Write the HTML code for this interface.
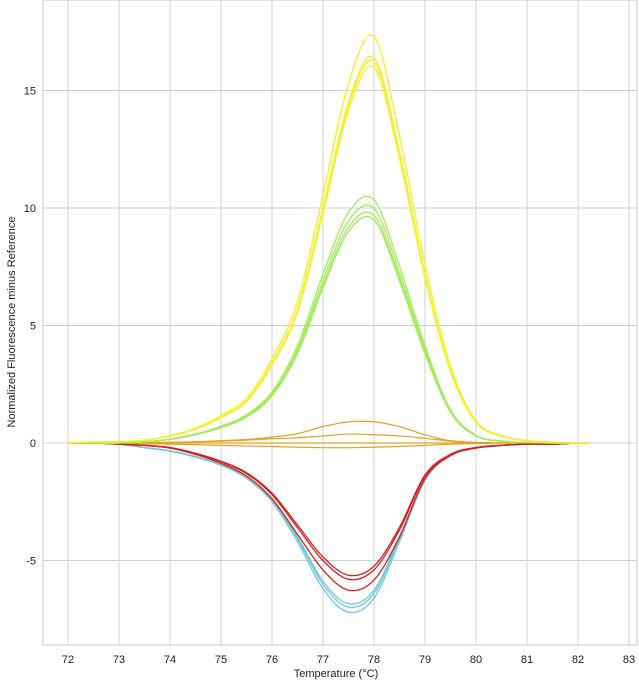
<!DOCTYPE html>
<html><head><meta charset="utf-8"><style>
body{margin:0;background:#fff;font-family:"Liberation Sans",sans-serif}
svg text{font-family:"Liberation Sans",sans-serif;font-size:11px;fill:#222}
</style></head><body>
<svg id="chart" width="639" height="682" xmlns="http://www.w3.org/2000/svg">
<g id="grid"></g>
<g id="series"></g>
<g id="axes"></g>
<text x="336" y="677" text-anchor="middle">Temperature (°C)</text>
<text transform="translate(15,322) rotate(-90)" text-anchor="middle">Normalized Fluorescence minus Reference</text>
</svg>
<script>
const temps=[72,72.5,73,73.5,74,74.5,75,75.5,76,76.5,77,77.5,78,78.5,79,79.5,80,80.5,81,81.5,82];
const yellowBase=[0,0.05,0.05,0.12,0.3,0.6,1.1,1.8,3.4,5.7,10,14.5,16.4,12.4,7.2,3.1,0.9,0.3,0.1,0.03,0];
const yellowScales=[1,0.99,1.055,0.975];
const greenBase=[0,0,0,0.05,0.15,0.35,0.65,1.1,2.0,3.8,6.6,9.0,9.5,6.9,3.8,1.3,0.3,0.08,0.02,0,0];
const greenScales=[1,1.02,1.05,1.09];
const redBase=[0,0,-0.05,-0.1,-0.2,-0.45,-0.8,-1.3,-2.2,-3.6,-5.0,-5.8,-5.4,-3.7,-1.4,-0.5,-0.2,-0.1,-0.05,-0.05,0];
const redScales=[0.97,1,1.08];
const blueBase=[0,0,-0.05,-0.2,-0.35,-0.6,-0.95,-1.5,-2.5,-4.2,-6.2,-7.2,-6.6,-4.2,-1.6,-0.5,-0.2,-0.1,-0.05,-0.02,0];
const blueScales=[1,0.97,0.95];
const orangeA=[0,0,0,0,0.02,0.05,0.1,0.15,0.25,0.4,0.7,0.9,0.9,0.7,0.35,0.1,0.02,0,0,0,0];
const orangeB=[0,0.02,0.02,0.02,0.03,0.05,0.08,0.12,0.18,0.22,0.3,0.38,0.35,0.3,0.2,0.08,0.02,0,0,0,0];
const orangeC=[0,0,0,0,0,0,0,0,0,0,0,0,0,0,0,0,0,0,0,0,0];
const orangeD=[0,0,-0.02,-0.03,-0.05,-0.07,-0.1,-0.13,-0.15,-0.18,-0.2,-0.2,-0.18,-0.15,-0.1,-0.05,-0.02,0,0,0,0];
const xTicks=[72,73,74,75,76,77,78,79,80,81,82,83];
const yTicks=[-5,0,5,10,15];
const NS="http://www.w3.org/2000/svg";
const L=43,R=637,T=0,B=645;
const xs=v=>68+(v-72)*51;
const ys=v=>443-v*23.5;
function mk(tag,attrs,parent){const e=document.createElementNS(NS,tag);for(const k in attrs)e.setAttribute(k,attrs[k]);parent.appendChild(e);return e;}
const grid=document.getElementById('grid'),axes=document.getElementById('axes'),ser=document.getElementById('series');
mk('rect',{x:L,y:T,width:R-L,height:B-T,fill:'none',stroke:'#c8c8c8'},grid);
xTicks.forEach(t=>{const l=mk('line',{x1:xs(t),x2:xs(t),y1:T,y2:B,stroke:'#d0d0d0'},grid);


const tx=mk('text',{x:xs(t),y:663,'text-anchor':'middle'},axes);tx.textContent=t;

});
yTicks.forEach(t=>{const l=mk('line',{x1:L,x2:R,y1:ys(t),y2:ys(t),stroke:'#d0d0d0'},grid);


const tx=mk('text',{x:36,y:ys(t)+4,'text-anchor':'end'},axes);tx.textContent=t;

});
function path(vals,color,w){
 const p=temps.map((t,i)=>[xs(t),ys(vals[i])]);p.push([xs(82.2),ys(0)]);
 let d='M'+p[0][0]+','+p[0][1];
 for(let i=0;i<p.length-1;i++){const p0=p[Math.max(0,i-1)],p1=p[i],p2=p[i+1],p3=p[Math.min(p.length-1,i+2)];
  d+=' C'+(p1[0]+(p2[0]-p0[0])/6)+','+(p1[1]+(p2[1]-p0[1])/6)+' '+(p2[0]-(p3[0]-p1[0])/6)+','+(p2[1]-(p3[1]-p1[1])/6)+' '+p2[0]+','+p2[1];}
 const e=mk('path',{d:d,fill:'none',stroke:color,'stroke-width':w},ser);return e;}
[orangeA,orangeB,orangeC,orangeD].forEach(a=>{const e=path(a,'#e8a020',1.2);

});
blueScales.forEach(s=>{const e=path(blueBase.map(v=>v*s),'#70c8dc',1.3);

});
redScales.forEach(s=>{const e=path(redBase.map(v=>v*s),'#d82020',1.3);

});
greenScales.forEach(s=>{const e=path(greenBase.map(v=>v*s),'#a4ec5c',1.3);

});
yellowScales.forEach(s=>{const e=path(yellowBase.map(v=>v*s),'#f6f030',1.4);

});
</script>
</body></html>
